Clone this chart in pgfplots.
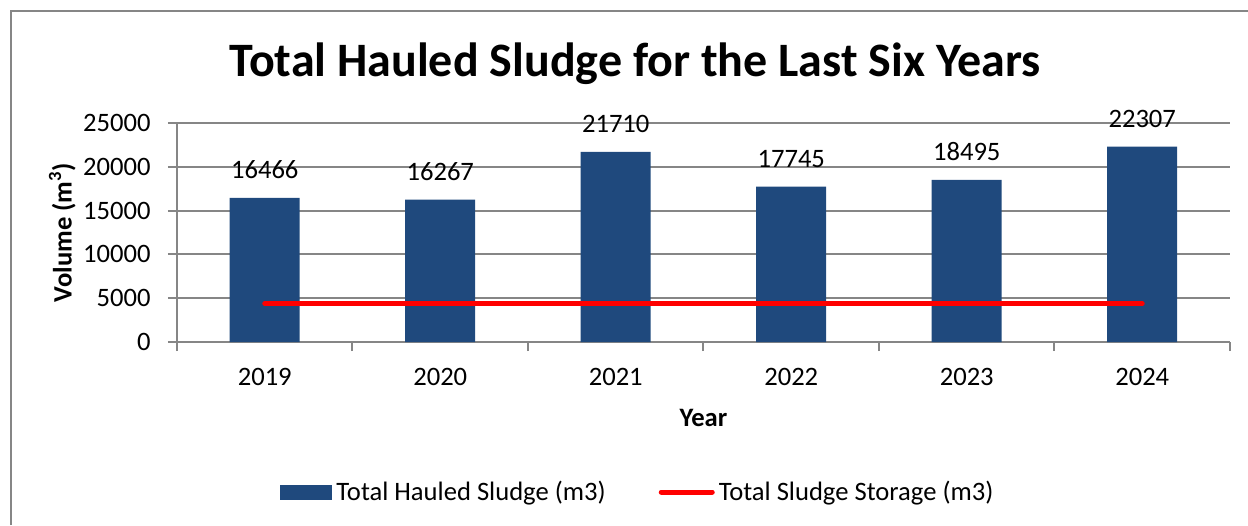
\documentclass[border=0pt]{standalone}
\usepackage{pgfplots}
\pgfplotsset{compat=1.18}
\usepackage{fontspec}
\setmainfont{Carlito}
\definecolor{barblue}{RGB}{31,73,125}
\definecolor{axgray}{RGB}{134,134,134}
\newcommand\lbl{\fontsize{13.3}{16}\selectfont}

\begin{document}
\begin{tikzpicture}
\begin{axis}[
  at={(0,0)}, anchor=south west,
  scale only axis, width=526.5pt, height=109.5pt,
  xmin=-0.5, xmax=5.5, ymin=0, ymax=25000,
  xtick={-0.5,0.5,...,5.5}, x tick label as interval,
  xticklabels={2019,2020,2021,2022,2023,2024},
  ytick={0,5000,...,25000}, scaled y ticks=false,
  axis x line*=bottom, axis y line*=left,
  axis line style={axgray, line width=1pt},
  tick style={axgray, line width=1pt},
  tick align=outside, major tick length=4.5pt,
  ymajorgrids, grid style={axgray, line width=1pt},
  /pgf/number format/1000 sep={},
  /pgf/number format/assume math mode=true,
  ticklabel style={font=\lbl, text=black},
  yticklabel style={anchor=east, inner sep=0pt, xshift=-8.5pt},
  xticklabel style={anchor=north, inner sep=0pt, yshift=-8.5pt},
  xlabel={\textbf{Year}},
  ylabel={\textbf{Volume (m\textsuperscript{3})}},
  xlabel style={font=\lbl, at={(axis description cs:0.5,-0.347)}, anchor=center},
  ylabel style={font=\lbl, at={(axis description cs:-0.109,0.5)}, anchor=center, rotate=0},
  legend style={draw=none, fill=none, at={(0.0978,-0.685)}, anchor=west,
    inner sep=0pt, font=\lbl, legend columns=2,
    /tikz/every even column/.append style={column sep=24.5pt}},
  legend cell align=left,
]
\addplot[ybar, bar width=35pt, fill=barblue, draw=none,
  nodes near coords,
  every node near coord/.append style={anchor=base, yshift=9.5pt, inner sep=0pt, font=\lbl, text=black},
  legend image code/.code={\fill[barblue] (0pt,-3.75pt) rectangle (26pt,3.75pt);}]
  coordinates {(0,16466) (1,16267) (2,21710) (3,17745) (4,18495) (5,22307)};
\addlegendentry{Total Hauled Sludge (m3)}
\addplot[red, line width=2.5pt, line cap=round, mark=none,
  legend image code/.code={\draw[red, line width=2.5pt, line cap=round] (1.25pt,0pt) -- (26.75pt,0pt);}]
  coordinates {(0,4400) (5,4400)};
\addlegendentry{Total Sludge Storage (m3)}
\end{axis}
\begin{scope}[x=0.5pt, y=-0.5pt, shift={(-88.5pt,171pt)}]
  \node[font=\fontsize{24}{29}\selectfont\bfseries] at (635,64) {Total Hauled Sludge for the Last Six Years};
  \draw[axgray, line width=1.1pt] (11,525) -- (11,11) -- (1248,11);
  \pgfresetboundingbox
  \path[use as bounding box] (0,0) rectangle (1248,525);
\end{scope}
\end{tikzpicture}
\end{document}
